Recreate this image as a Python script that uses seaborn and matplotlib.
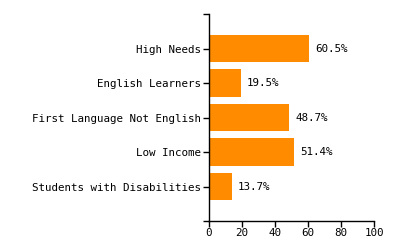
import matplotlib
matplotlib.use("Agg")
import matplotlib.pyplot as plt
import seaborn as sns
import pandas as pd

categories = ["High Needs", "English Learners", "First Language Not English",
              "Low Income", "Students with Disabilities"]
values = [60.5, 19.5, 48.7, 51.4, 13.7]
x_ticks = [0, 20, 40, 60, 80, 100]

sns.set_theme(style="white")
plt.rcParams['font.family'] = ['DejaVu Sans Mono', 'DejaVu Sans']

df = pd.DataFrame({"category": categories, "value": values})

FS = 7.8

fig = plt.figure(figsize=(4, 2.5), dpi=100)
ax = fig.add_axes([209/400, 1-221/250, (374-209)/400, (221-14)/250])
sns.barplot(data=df, x="value", y="category", orient="h", color="#FF8C00",
            saturation=1, width=0.8, linewidth=0, ax=ax)

ax.set_xlim(0, 100)
ax.set_ylim(len(categories), -1)
ax.set_xticks(x_ticks)
ax.set_xticklabels([str(t) for t in x_ticks])
ax.set_yticks([-1, len(categories)], minor=True)
ax.set_xlabel("")
ax.set_ylabel("")

for i, v in enumerate(values):
    ax.annotate(f"{v}%", xy=(v, i), xytext=(4.3, 0), textcoords="offset points",
                va="center", ha="left", fontsize=FS, color="black")

for s in ["top", "right"]:
    ax.spines[s].set_visible(False)
for s in ["left", "bottom"]:
    ax.spines[s].set_color("black")
    ax.spines[s].set_linewidth(1)

ax.tick_params(axis="both", which="both", width=1, color="black",
               labelsize=FS, labelcolor="black")
ax.tick_params(axis="x", which="both", bottom=True, length=4, pad=1)
ax.tick_params(axis="y", which="both", left=True, length=4, pad=2)
ax.grid(False)

fig.savefig("out.png", dpi=100, facecolor="white")
